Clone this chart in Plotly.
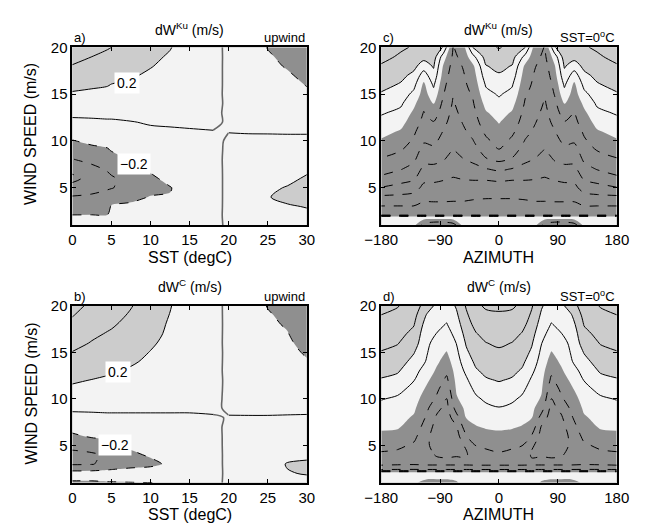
import numpy as np
import plotly.graph_objects as go

# ---------------- data ----------------
SST = [0, 2.5, 4.5, 5, 7.5, 10, 12.5, 15, 18, 20, 22.5, 25, 27.5, 30]
WIND_AB = [1, 2, 3, 4, 5, 6, 7, 8, 9, 10, 11, 12, 13, 14, 15, 16, 17, 18, 19, 20]

# panel a: dW^Ku (upwind) vs SST; one list per SST column, values along WIND_AB
DWKU_SST = [
    [-0.01, -0.19, -0.29, -0.38, -0.55, -0.64, -0.55, -0.41, -0.31, -0.21, -0.12, -0.04, 0.04, 0.11, 0.18, 0.25, 0.32, 0.39, 0.46, 0.52],
    [-0.01, -0.19, -0.28, -0.36, -0.48, -0.55, -0.45, -0.35, -0.25, -0.16, -0.09, -0.03, 0.04, 0.10, 0.16, 0.23, 0.29, 0.34, 0.40, 0.45],
    [-0.01, -0.19, -0.27, -0.33, -0.42, -0.45, -0.38, -0.30, -0.22, -0.14, -0.08, -0.02, 0.04, 0.10, 0.15, 0.21, 0.26, 0.32, 0.37, 0.41],
    [-0.01, -0.10, -0.18, -0.30, -0.41, -0.42, -0.36, -0.29, -0.19, -0.13, -0.07, -0.02, 0.04, 0.09, 0.15, 0.195, 0.26, 0.31, 0.36, 0.40],
    [-0.01, -0.08, -0.16, -0.25, -0.33, -0.33, -0.27, -0.19, -0.13, -0.08, -0.04, -0.005, 0.04, 0.08, 0.13, 0.17, 0.22, 0.26, 0.30, 0.34],
    [-0.01, -0.06, -0.12, -0.19, -0.26, -0.24, -0.17, -0.12, -0.08, -0.05, -0.02, 0.01, 0.04, 0.07, 0.10, 0.13, 0.17, 0.21, 0.24, 0.27],
    [-0.01, -0.04, -0.09, -0.19, -0.21, -0.14, -0.10, -0.07, -0.05, -0.03, -0.01, 0.01, 0.03, 0.05, 0.08, 0.10, 0.13, 0.15, 0.18, 0.21],
    [-0.01, -0.02, -0.05, -0.09, -0.10, -0.08, -0.06, -0.04, -0.03, -0.02, -0.005, 0.01, 0.02, 0.03, 0.04, 0.05, 0.07, 0.08, 0.09, 0.10],
    [-0.005, -0.010, -0.015, -0.020, -0.020, -0.020, -0.015, -0.010, -0.008, -0.004, -0.0005, 0.003, 0.005, 0.008, 0.010, 0.012, 0.015, 0.018, 0.020, 0.022],
    [0.003, 0.007, 0.010, 0.013, 0.013, 0.013, 0.010, 0.007, 0.005, 0.002, -0.0003, -0.002, -0.004, -0.005, -0.007, -0.008, -0.010, -0.012, -0.013, -0.015],
    [0.03, 0.04, 0.06, 0.07, 0.07, 0.06, 0.05, 0.04, 0.025, 0.01, -0.003, -0.02, -0.035, -0.05, -0.065, -0.08, -0.09, -0.10, -0.11, -0.12],
    [0.06, 0.09, 0.13, 0.19, 0.17, 0.13, 0.10, 0.07, 0.04, 0.015, -0.005, -0.035, -0.06, -0.085, -0.11, -0.13, -0.15, -0.17, -0.185, -0.205],
    [0.08, 0.12, 0.18, 0.25, 0.21, 0.16, 0.12, 0.09, 0.05, 0.02, -0.008, -0.045, -0.08, -0.11, -0.14, -0.165, -0.185, -0.21, -0.23, -0.25],
    [0.10, 0.15, 0.21, 0.27, 0.25, 0.22, 0.17, 0.12, 0.07, 0.025, -0.01, -0.06, -0.10, -0.14, -0.18, -0.205, -0.23, -0.26, -0.28, -0.30],
]

# panel b: dW^C (upwind) vs SST
DWC_SST = [
    [-0.22, -0.12, -0.42, -0.45, -0.35, -0.23, -0.14, -0.05, 0.03, 0.10, 0.17, 0.22, 0.28, 0.34, 0.395, 0.45, 0.50, 0.56, 0.61, 0.66],
    [-0.22, -0.12, -0.41, -0.43, -0.30, -0.18, -0.11, -0.04, 0.03, 0.09, 0.15, 0.195, 0.25, 0.30, 0.35, 0.39, 0.43, 0.47, 0.52, 0.56],
    [-0.21, -0.11, -0.35, -0.36, -0.26, -0.16, -0.10, -0.03, 0.03, 0.08, 0.13, 0.18, 0.22, 0.27, 0.31, 0.35, 0.39, 0.43, 0.47, 0.51],
    [-0.21, -0.11, -0.33, -0.32, -0.21, -0.15, -0.09, -0.03, 0.03, 0.08, 0.13, 0.17, 0.22, 0.26, 0.30, 0.34, 0.38, 0.42, 0.46, 0.50],
    [-0.205, -0.10, -0.27, -0.23, -0.17, -0.12, -0.07, -0.02, 0.02, 0.06, 0.10, 0.14, 0.18, 0.22, 0.25, 0.29, 0.32, 0.35, 0.38, 0.41],
    [-0.205, -0.10, -0.24, -0.18, -0.13, -0.09, -0.05, -0.015, 0.015, 0.045, 0.075, 0.11, 0.14, 0.17, 0.195, 0.22, 0.25, 0.27, 0.29, 0.31],
    [-0.15, -0.08, -0.17, -0.13, -0.10, -0.07, -0.04, -0.01, 0.01, 0.035, 0.06, 0.08, 0.10, 0.12, 0.14, 0.16, 0.17, 0.18, 0.195, 0.21],
    [-0.08, -0.04, -0.08, -0.07, -0.05, -0.035, -0.02, -0.005, 0.005, 0.015, 0.025, 0.035, 0.045, 0.055, 0.06, 0.07, 0.075, 0.08, 0.085, 0.09],
    [-0.010, -0.008, -0.015, -0.012, -0.010, -0.007, -0.004, -0.001, 0.002, 0.004, 0.006, 0.008, 0.010, 0.012, 0.014, 0.016, 0.018, 0.020, 0.021, 0.022],
    [0.007, 0.005, 0.010, 0.008, 0.007, 0.005, 0.003, 0.0005, -0.0015, -0.003, -0.004, -0.005, -0.007, -0.008, -0.009, -0.011, -0.012, -0.013, -0.014, -0.015],
    [0.04, 0.03, 0.05, 0.045, 0.04, 0.03, 0.015, 0.003, -0.01, -0.025, -0.04, -0.055, -0.07, -0.08, -0.09, -0.10, -0.11, -0.12, -0.13, -0.14],
    [0.08, 0.10, 0.12, 0.10, 0.08, 0.06, 0.03, 0.006, -0.02, -0.045, -0.065, -0.09, -0.11, -0.13, -0.14, -0.155, -0.17, -0.18, -0.19, -0.205],
    [0.12, 0.19, 0.21, 0.15, 0.12, 0.08, 0.045, 0.01, -0.025, -0.055, -0.085, -0.11, -0.13, -0.15, -0.165, -0.18, -0.195, -0.21, -0.225, -0.24],
    [0.15, 0.21, 0.23, 0.16, 0.14, 0.10, 0.06, 0.015, -0.03, -0.065, -0.10, -0.13, -0.16, -0.19, -0.215, -0.24, -0.26, -0.28, -0.30, -0.32],
]

# panel c: dW^Ku vs azimuth at SST=0C; one list per azimuth column, values along WIND_C
AZ_C = [-180, -150, -130, -115, -100, -85, -70, -55, -40, -20, 0, 20, 40, 55, 70, 85, 100, 115, 130, 150, 180]
WIND_C = [1, 1.9, 2.1, 3, 4, 5, 6, 7, 8, 9, 10, 11, 12, 13, 14, 15, 16, 17, 18, 19, 20]
DWKU_AZ = [
    [-0.05, -0.05, -1.35, -1.21, -1.04, -0.81, -0.64, -0.52, -0.42, -0.32, -0.22, -0.14, -0.06, 0.02, 0.10, 0.18, 0.26, 0.33, 0.38, 0.46, 0.53],
    [-0.05, -0.05, -1.35, -1.21, -1.05, -0.87, -0.72, -0.59, -0.49, -0.395, -0.31, -0.22, -0.14, -0.05, 0.03, 0.10, 0.18, 0.25, 0.31, 0.37, 0.43],
    [-0.15, -0.05, -1.35, -1.21, -1.07, -0.92, -0.77, -0.67, -0.57, -0.50, -0.43, -0.37, -0.30, -0.24, -0.16, -0.05, 0.05, 0.15, 0.25, 0.32, 0.38],
    [-0.50, -0.05, -1.35, -1.25, -1.15, -1.05, -0.95, -0.85, -0.75, -0.67, -0.58, -0.52, -0.46, -0.41, -0.35, -0.29, -0.24, -0.10, 0.10, 0.27, 0.38],
    [-0.60, -0.05, -1.35, -1.25, -1.15, -1.05, -0.96, -0.85, -0.75, -0.64, -0.56, -0.48, -0.41, -0.30, -0.19, -0.07, 0.03, 0.14, 0.22, 0.30, 0.37],
    [-0.60, -0.05, -1.35, -1.25, -1.15, -1.07, -0.98, -0.87, -0.79, -0.73, -0.66, -0.61, -0.55, -0.50, -0.45, -0.39, -0.34, -0.28, -0.22, -0.10, 0.18],
    [-0.50, -0.05, -1.35, -1.25, -1.16, -1.08, -1.01, -0.93, -0.87, -0.81, -0.76, -0.72, -0.68, -0.65, -0.62, -0.59, -0.56, -0.52, -0.48, -0.44, -0.41],
    [-0.15, -0.05, -1.35, -1.25, -1.16, -1.08, -0.99, -0.90, -0.81, -0.74, -0.68, -0.63, -0.59, -0.55, -0.50, -0.47, -0.44, -0.42, -0.39, -0.35, -0.30],
    [-0.05, -0.05, -1.35, -1.25, -1.18, -1.08, -0.98, -0.87, -0.76, -0.68, -0.61, -0.55, -0.50, -0.46, -0.42, -0.38, -0.34, -0.30, -0.24, -0.06, 0.21],
    [-0.05, -0.05, -1.35, -1.25, -1.19, -1.08, -0.98, -0.81, -0.62, -0.52, -0.44, -0.36, -0.29, -0.22, -0.14, -0.06, 0.02, 0.11, 0.19, 0.28, 0.36],
    [-0.05, -0.05, -1.35, -1.25, -1.19, -1.08, -0.96, -0.76, -0.56, -0.41, -0.33, -0.26, -0.19, -0.12, -0.05, 0.02, 0.10, 0.18, 0.25, 0.33, 0.41],
    [-0.05, -0.05, -1.35, -1.25, -1.19, -1.08, -0.98, -0.81, -0.62, -0.52, -0.44, -0.36, -0.29, -0.22, -0.14, -0.06, 0.02, 0.11, 0.19, 0.28, 0.36],
    [-0.05, -0.05, -1.35, -1.25, -1.18, -1.08, -0.98, -0.87, -0.76, -0.68, -0.61, -0.55, -0.50, -0.46, -0.42, -0.38, -0.34, -0.30, -0.24, -0.06, 0.21],
    [-0.15, -0.05, -1.35, -1.25, -1.16, -1.08, -0.99, -0.90, -0.81, -0.74, -0.68, -0.63, -0.59, -0.55, -0.50, -0.47, -0.44, -0.42, -0.39, -0.35, -0.30],
    [-0.50, -0.05, -1.35, -1.25, -1.16, -1.08, -1.01, -0.93, -0.87, -0.81, -0.76, -0.72, -0.68, -0.65, -0.62, -0.59, -0.56, -0.52, -0.48, -0.44, -0.41],
    [-0.60, -0.05, -1.35, -1.25, -1.15, -1.07, -0.98, -0.87, -0.79, -0.73, -0.66, -0.61, -0.55, -0.50, -0.45, -0.39, -0.34, -0.28, -0.22, -0.10, 0.18],
    [-0.60, -0.05, -1.35, -1.25, -1.15, -1.05, -0.96, -0.85, -0.75, -0.64, -0.56, -0.48, -0.41, -0.30, -0.19, -0.07, 0.03, 0.14, 0.22, 0.30, 0.37],
    [-0.50, -0.05, -1.35, -1.25, -1.15, -1.05, -0.95, -0.85, -0.75, -0.67, -0.58, -0.52, -0.46, -0.41, -0.35, -0.29, -0.24, -0.10, 0.10, 0.27, 0.38],
    [-0.15, -0.05, -1.35, -1.21, -1.07, -0.92, -0.77, -0.67, -0.57, -0.50, -0.43, -0.37, -0.30, -0.24, -0.16, -0.05, 0.05, 0.15, 0.25, 0.32, 0.38],
    [-0.05, -0.05, -1.35, -1.21, -1.05, -0.87, -0.72, -0.59, -0.49, -0.395, -0.31, -0.22, -0.14, -0.05, 0.03, 0.10, 0.18, 0.25, 0.31, 0.37, 0.43],
    [-0.05, -0.05, -1.35, -1.21, -1.04, -0.81, -0.64, -0.52, -0.42, -0.32, -0.22, -0.14, -0.06, 0.02, 0.10, 0.18, 0.26, 0.33, 0.38, 0.46, 0.53],
]

# panel d: dW^C vs azimuth at SST=0C
AZ_D = [-180, -155, -130, -110, -95, -80, -65, -50, -35, -20, 0, 20, 35, 50, 65, 80, 95, 110, 130, 155, 180]
WIND_D = [1, 2.1, 2.3, 3, 4, 5, 6, 7, 8, 9, 10, 11, 12, 13, 14, 15, 16, 17, 18, 19, 20]
DWC_AZ = [
    [-0.15, -0.10, -0.85, -0.55, -0.43, -0.34, -0.24, -0.17, -0.12, -0.06, 0.01, 0.10, 0.18, 0.26, 0.32, 0.39, 0.45, 0.50, 0.55, 0.598, 0.66],
    [-0.15, -0.10, -0.85, -0.57, -0.45, -0.36, -0.26, -0.18, -0.14, -0.09, -0.03, 0.05, 0.14, 0.22, 0.29, 0.35, 0.41, 0.46, 0.51, 0.56, 0.61],
    [-0.18, -0.10, -0.85, -0.58, -0.50, -0.43, -0.35, -0.28, -0.22, -0.17, -0.12, -0.06, 0.005, 0.07, 0.14, 0.21, 0.29, 0.35, 0.41, 0.46, 0.50],
    [-0.25, -0.10, -0.85, -0.56, -0.57, -0.58, -0.56, -0.50, -0.43, -0.37, -0.31, -0.24, -0.17, -0.10, -0.02, 0.01, 0.03, 0.05, 0.10, 0.18, 0.30],
    [-0.25, -0.10, -0.85, -0.56, -0.61, -0.66, -0.70, -0.68, -0.63, -0.55, -0.43, -0.37, -0.30, -0.23, -0.17, -0.12, -0.06, -0.005, 0.05, 0.10, 0.15],
    [-0.25, -0.10, -0.85, -0.56, -0.62, -0.68, -0.72, -0.72, -0.70, -0.66, -0.61, -0.52, -0.44, -0.36, -0.28, -0.21, -0.13, -0.07, -0.01, 0.05, 0.10],
    [-0.22, -0.10, -0.85, -0.56, -0.61, -0.66, -0.68, -0.62, -0.47, -0.32, -0.22, -0.18, -0.15, -0.12, -0.08, -0.04, 0.005, 0.06, 0.12, 0.17, 0.22],
    [-0.12, -0.10, -0.85, -0.56, -0.62, -0.58, -0.41, -0.27, -0.19, -0.15, -0.12, -0.08, -0.03, 0.04, 0.11, 0.17, 0.22, 0.27, 0.32, 0.37, 0.42],
    [-0.12, -0.10, -0.85, -0.55, -0.47, -0.395, -0.30, -0.21, -0.14, -0.08, -0.03, 0.04, 0.12, 0.18, 0.24, 0.29, 0.34, 0.39, 0.46, 0.52, 0.57],
    [-0.12, -0.10, -0.85, -0.55, -0.45, -0.37, -0.27, -0.18, -0.10, -0.04, 0.03, 0.11, 0.18, 0.24, 0.30, 0.35, 0.395, 0.46, 0.51, 0.57, 0.62],
    [-0.12, -0.10, -0.85, -0.55, -0.42, -0.35, -0.26, -0.16, -0.08, -0.01, 0.07, 0.14, 0.21, 0.26, 0.31, 0.37, 0.43, 0.48, 0.53, 0.58, 0.63],
    [-0.12, -0.10, -0.85, -0.55, -0.45, -0.37, -0.27, -0.18, -0.10, -0.04, 0.03, 0.11, 0.18, 0.24, 0.30, 0.35, 0.395, 0.46, 0.51, 0.57, 0.62],
    [-0.12, -0.10, -0.85, -0.55, -0.47, -0.395, -0.30, -0.21, -0.14, -0.08, -0.03, 0.04, 0.12, 0.18, 0.24, 0.29, 0.34, 0.39, 0.46, 0.52, 0.57],
    [-0.12, -0.10, -0.85, -0.56, -0.62, -0.58, -0.41, -0.27, -0.19, -0.15, -0.12, -0.08, -0.03, 0.04, 0.11, 0.17, 0.22, 0.27, 0.32, 0.37, 0.42],
    [-0.22, -0.10, -0.85, -0.56, -0.61, -0.66, -0.68, -0.62, -0.47, -0.32, -0.22, -0.18, -0.15, -0.12, -0.08, -0.04, 0.005, 0.06, 0.12, 0.17, 0.22],
    [-0.25, -0.10, -0.85, -0.56, -0.62, -0.68, -0.72, -0.72, -0.70, -0.66, -0.61, -0.52, -0.44, -0.36, -0.28, -0.21, -0.13, -0.07, -0.01, 0.05, 0.10],
    [-0.25, -0.10, -0.85, -0.56, -0.61, -0.66, -0.70, -0.68, -0.63, -0.55, -0.43, -0.37, -0.30, -0.23, -0.17, -0.12, -0.06, -0.005, 0.05, 0.10, 0.15],
    [-0.25, -0.10, -0.85, -0.56, -0.57, -0.58, -0.56, -0.50, -0.43, -0.37, -0.31, -0.24, -0.17, -0.10, -0.02, 0.01, 0.03, 0.05, 0.10, 0.18, 0.30],
    [-0.18, -0.10, -0.85, -0.58, -0.50, -0.43, -0.35, -0.28, -0.22, -0.17, -0.12, -0.06, 0.005, 0.07, 0.14, 0.21, 0.29, 0.35, 0.41, 0.46, 0.50],
    [-0.15, -0.10, -0.85, -0.57, -0.45, -0.36, -0.26, -0.18, -0.14, -0.09, -0.03, 0.05, 0.14, 0.22, 0.29, 0.35, 0.41, 0.46, 0.51, 0.56, 0.61],
    [-0.15, -0.10, -0.85, -0.55, -0.43, -0.34, -0.24, -0.17, -0.12, -0.06, 0.01, 0.10, 0.18, 0.26, 0.32, 0.39, 0.45, 0.50, 0.55, 0.598, 0.66],
]

SST_TICKS = [0, 5, 10, 15, 20, 25, 30]
AZ_TICKS = [-180, -90, 0, 90, 180]
WIND_TICKS = [5, 10, 15, 20]
SST_SIGN_CHANGE_COLS = (8, 9)   # columns (18 and 20 degC) bracketing the sign change

# ---------------- style ----------------
FONT = "Liberation Sans, Arial, Helvetica, sans-serif"
DARK, MID, LIGHT = "#8f8f8f", "#f3f3f3", "#cccccc"
FILL_SCALE = [[0, DARK], [0.25, DARK], [0.25, MID], [0.75, MID], [0.75, LIGHT], [1, LIGHT]]

W, H = 645, 523
XL = [58 / W, 304 / W]
XR = [382 / W, 629 / W]
YT = [1 - 220 / H, 1 - 39 / H]
YB = [1 - 482 / H, 1 - 302 / H]

fig = go.Figure()
SMOOTH = 0.9


def contour_lines(xs, ys, z, xa, ya, start, end, color="black", width=1, dash="solid"):
    fig.add_trace(go.Contour(
        x=xs, y=ys, z=z, xaxis=xa, yaxis=ya,
        contours=dict(start=start, end=end, size=0.2, coloring="none"),
        showscale=False, line=dict(color=color, width=width, dash=dash, smoothing=SMOOTH),
        hoverinfo="skip",
    ))


panels = [
    # (x, y, columns, xaxis, yaxis, dashed-end, split zero line)
    (SST, WIND_AB, DWKU_SST, "x", "y", -0.2, True),
    (AZ_C, WIND_C, DWKU_AZ, "x2", "y2", -0.4, False),
    (SST, WIND_AB, DWC_SST, "x3", "y3", -0.2, True),
    (AZ_D, WIND_D, DWC_AZ, "x4", "y4", -0.4, False),
]

for xs, ys, cols, xa, ya, ne, split in panels:
    z = np.array(cols, dtype=float).T
    fig.add_trace(go.Contour(
        x=xs, y=ys, z=z, xaxis=xa, yaxis=ya,
        contours=dict(start=-0.2, end=0.2, size=0.4, coloring="fill"),
        colorscale=FILL_SCALE, showscale=False,
        line=dict(width=0, smoothing=SMOOTH), hoverinfo="skip",
    ))
    if split:
        i0, i1 = SST_SIGN_CHANGE_COLS
        xa_arr = np.array(xs)
        # zero contour: black away from the sign change, grey across it
        contour_lines(xa_arr[:i0 + 1], ys, z[:, :i0 + 1], xa, ya, 0, 0.01)
        contour_lines(xa_arr[i1:], ys, z[:, i1:], xa, ya, 0, 0.01)
        contour_lines(xa_arr[i0:i1 + 1], ys, z[:, i0:i1 + 1], xa, ya, 0, 0.01,
                      color="#666666", width=1.6)
        contour_lines(xs, ys, z, xa, ya, 0.2, 1.0)
    else:
        contour_lines(xs, ys, z, xa, ya, 0, 1.0)
    contour_lines(xs, ys, z, xa, ya, -1.4, ne, dash="dash")

axis_common = dict(
    showline=True, linecolor="black", linewidth=1.6, mirror="allticks",
    ticks="inside", ticklen=4, tickwidth=1, tickcolor="black",
    showgrid=False, zeroline=False,
    tickfont=dict(family=FONT, size=15, color="black"),
)

layout_axes = {}
for name, dom, anchor, rng, tv in [
    ("xaxis", XL, "y", [0, 30], SST_TICKS),
    ("xaxis2", XR, "y2", [-180, 180], AZ_TICKS),
    ("xaxis3", XL, "y3", [0, 30], SST_TICKS),
    ("xaxis4", XR, "y4", [-180, 180], AZ_TICKS),
]:
    layout_axes[name] = dict(axis_common, domain=dom, anchor=anchor, range=rng, tickvals=tv)
for name, dom, anchor in [
    ("yaxis", YT, "x"), ("yaxis2", YT, "x2"), ("yaxis3", YB, "x3"), ("yaxis4", YB, "x4"),
]:
    layout_axes[name] = dict(axis_common, domain=dom, anchor=anchor, range=[1, 20], tickvals=WIND_TICKS)

fig.update_layout(
    width=W, height=H, margin=dict(l=0, r=0, t=0, b=0),
    paper_bgcolor="white", plot_bgcolor="white", showlegend=False,
    font=dict(family=FONT, color="black"),
    **layout_axes,
)


def ann(text, x, y, size, xanchor="center", yanchor="middle", xref="paper", yref="paper", **kw):
    fig.add_annotation(text=text, x=x, y=y, xref=xref, yref=yref, showarrow=False,
                       xanchor=xanchor, yanchor=yanchor,
                       font=dict(family=FONT, size=size, color="black"), **kw)


cxl = (XL[0] + XL[1]) / 2
cxr = (XR[0] + XR[1]) / 2
# panel titles
ann("dW<sup>Ku</sup> (m/s)", cxl, 1 - 20 / H, 14)
ann("dW<sup>Ku</sup> (m/s)", cxr, 1 - 20 / H, 14)
ann("dW<sup>C</sup> (m/s)", cxl, 1 - 282 / H, 14)
ann("dW<sup>C</sup> (m/s)", cxr, 1 - 282 / H, 14)
# corner labels
ann("a)", XL[0], YT[1], 13, xanchor="left", yanchor="bottom")
ann("c)", XR[0], YT[1], 13, xanchor="left", yanchor="bottom")
ann("b)", XL[0], YB[1], 13, xanchor="left", yanchor="bottom")
ann("d)", XR[0], YB[1], 13, xanchor="left", yanchor="bottom")
ann("upwind", XL[1], YT[1], 13, xanchor="right", yanchor="bottom")
ann("upwind", XL[1], YB[1], 13, xanchor="right", yanchor="bottom")
ann("SST=0<sup>o</sup>C", XR[1], YT[1], 13, xanchor="right", yanchor="bottom")
ann("SST=0<sup>o</sup>C", XR[1], YB[1], 13, xanchor="right", yanchor="bottom")
# axis titles
ann("SST (degC)", cxl, 1 - 253 / H, 16)
ann("AZIMUTH", cxr, 1 - 253 / H, 16)
ann("SST (degC)", cxl, 1 - 514 / H, 16)
ann("AZIMUTH", cxr, 1 - 514 / H, 16)
ann("WIND SPEED (m/s)", 15 / W, 1 - 127 / H, 16, textangle=-90)
ann("WIND SPEED (m/s)", 15 / W, 1 - 391 / H, 16, textangle=-90)
# contour labels
for txt, x, y, xr, yr in [("0.2", 7.0, 16.2, "x", "y"), ("\u22120.2", 7.9, 7.5, "x", "y"),
                          ("0.2", 5.9, 12.9, "x3", "y3"), ("\u22120.2", 5.5, 5.0, "x3", "y3")]:
    ann(txt, x, y, 14, xref=xr, yref=yr, bgcolor="white", borderpad=2)

fig.write_html("out.html", config={"displayModeBar": False},
               post_script="document.body.style.margin='0';")
